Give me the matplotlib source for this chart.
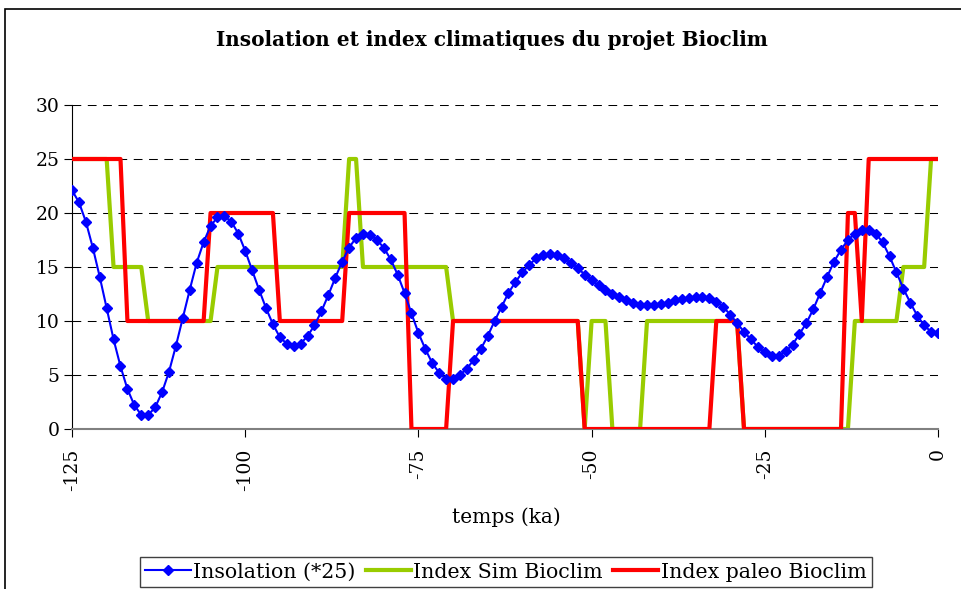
import matplotlib
matplotlib.use("Agg")
import matplotlib.pyplot as plt
from matplotlib.patches import Rectangle

plt.rcParams['font.family'] = ['DejaVu Serif']
plt.rcParams['axes.unicode_minus'] = False

# time axis (ka), one point per ka
temps = list(range(-125, 1))

# insolation (*25)
insolation = [
    22.1, 21.0, 19.2, 16.8, 14.1, 11.2, 8.3, 5.8, 3.7, 2.2,       # -125 .. -116
    1.3, 1.3, 2.0, 3.4, 5.3, 7.7, 10.3, 12.9, 15.4, 17.3,         # -115 .. -106
    18.8, 19.6, 19.7, 19.2, 18.1, 16.5, 14.7, 12.9, 11.2, 9.7,    # -105 .. -96
    8.5, 7.9, 7.7, 7.9, 8.6, 9.6, 10.9, 12.4, 14.0, 15.5,         # -95 .. -86
    16.8, 17.7, 18.1, 18.0, 17.5, 16.8, 15.7, 14.3, 12.6, 10.7,   # -85 .. -76
    8.9, 7.4, 6.1, 5.2, 4.6, 4.6, 5.0, 5.6, 6.4, 7.4,             # -75 .. -66
    8.6, 10.0, 11.3, 12.6, 13.6, 14.5, 15.2, 15.8, 16.1, 16.2,    # -65 .. -56
    16.1, 15.8, 15.4, 14.9, 14.3, 13.8, 13.3, 12.9, 12.5, 12.2,   # -55 .. -46
    11.9, 11.7, 11.5, 11.5, 11.5, 11.6, 11.7, 11.9, 12.0, 12.1,   # -45 .. -36
    12.2, 12.2, 12.1, 11.8, 11.3, 10.6, 9.8, 9.0, 8.3, 7.6,       # -35 .. -26
    7.1, 6.8, 6.8, 7.2, 7.8, 8.8, 9.8, 11.1, 12.6, 14.1,          # -25 .. -16
    15.5, 16.6, 17.5, 18.1, 18.4, 18.4, 18.1, 17.3, 16.0, 14.5,   # -15 .. -6
    13.0, 11.7, 10.5, 9.6, 9.0, 8.9,                              # -5 .. 0
]

# Index Sim Bioclim (breakpoints)
sim_t = [-125, -120, -119, -115, -114, -105, -104, -86, -85, -84, -83, -71, -70,
         -52, -51, -50, -48, -47, -43, -42, -29, -28, -13, -12, -6, -5, -2, -1, 0]
sim_v = [25, 25, 15, 15, 10, 10, 15, 15, 25, 25, 15, 15, 10,
         10, 0, 10, 10, 0, 0, 10, 10, 0, 0, 10, 10, 15, 15, 25, 25]

# Index paleo Bioclim (breakpoints)
paleo_t = [-125, -118, -117, -106, -105, -96, -95, -86, -85, -77, -76, -71, -70,
           -52, -51, -33, -32, -29, -28, -14, -13, -12, -11, -10, 0]
paleo_v = [25, 25, 10, 10, 20, 20, 10, 10, 20, 20, 0, 0, 10,
           10, 0, 0, 10, 10, 0, 0, 20, 20, 10, 25, 25]

x_ticks = [-125, -100, -75, -50, -25, 0]
y_ticks = [0, 5, 10, 15, 20, 25, 30]

fig = plt.figure(figsize=(9.61, 5.89), dpi=100)
ax = fig.add_axes([72 / 961, 1 - 429 / 589, (938 - 72) / 961, (429 - 105) / 589])

# dashed grid
for yv in y_ticks[1:]:
    ax.axhline(yv, color='black', lw=0.75, ls=(0, (8.4, 6.3)), zorder=1)

ax.plot(sim_t, sim_v, color='#99CC00', lw=3, label='Index Sim Bioclim', zorder=2)
ax.plot(paleo_t, paleo_v, color='#FF0000', lw=3, label='Index paleo Bioclim', zorder=3)
ax.plot(temps, insolation, color='#0000FF', lw=1.5, marker='D', ms=4.8,
        label='Insolation (*25)', zorder=4)

ax.set_xlim(-125, 0)
ax.set_ylim(0, 30)
ax.set_xticks(x_ticks)
ax.set_yticks(y_ticks)
ax.tick_params(axis='x', labelrotation=90, labelsize=13.5, length=6, pad=8)
ax.tick_params(axis='y', labelsize=13.5, length=6, pad=3)
for s in ['top', 'right']:
    ax.spines[s].set_visible(False)
ax.spines['left'].set_color('black')
ax.spines['bottom'].set_color('#808080')
ax.spines['bottom'].set_linewidth(1.5)

fig.text(492 / 961, 1 - 40 / 589, 'Insolation et index climatiques du projet Bioclim',
         ha='center', va='center', fontsize=14.4, fontweight='bold')
fig.text(506 / 961, 1 - 517 / 589, 'temps (ka)', ha='center', va='center', fontsize=14.5)

h, l = ax.get_legend_handles_labels()
order = [2, 0, 1]
leg = fig.legend([h[i] for i in order], [l[i] for i in order], loc='center',
                 bbox_to_anchor=(506 / 961, 1 - 572 / 589), ncol=3, fontsize=14.8,
                 frameon=True, fancybox=False, framealpha=1, edgecolor='#404040',
                 handlelength=2.2, handletextpad=0.12, columnspacing=0.5,
                 borderpad=0.25, borderaxespad=0)
leg.get_frame().set_linewidth(1)

# outer chart frame (top and left edges visible)
fig.add_artist(Rectangle((5 / 961, -0.2), 1.2, 1.2 - 9 / 589,
                         transform=fig.transFigure, fill=False,
                         edgecolor='black', lw=1.2))

fig.savefig('out.png', dpi=100)
